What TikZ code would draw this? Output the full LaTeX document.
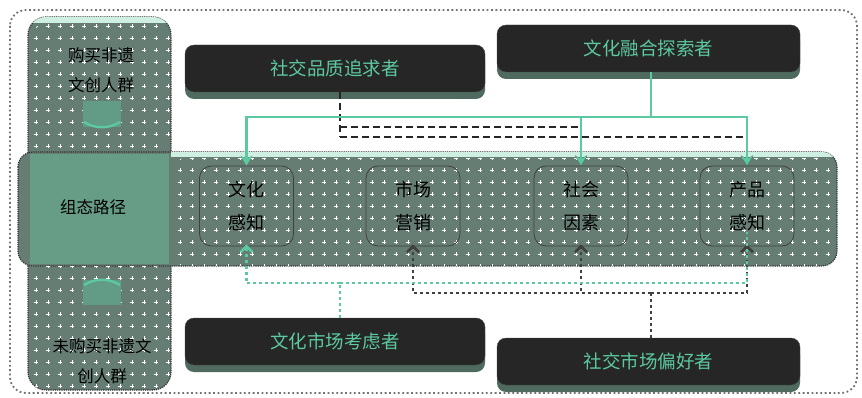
\documentclass[tikz,border=0pt]{standalone}
\usepackage{fontspec}
\setmainfont{Noto Sans CJK SC}
\usetikzlibrary{arrows.meta,patterns.meta,shadows}
\definecolor{mint}{HTML}{5CC9A0}
\definecolor{darkbg}{HTML}{262626}
\definecolor{panel}{HTML}{667D74}
\definecolor{panelmix}{HTML}{679C86}
\definecolor{shade}{HTML}{4F6B60}
\tikzdeclarepattern{name=plusgrid, type=uncolored,
  bounding box={(-6pt,-6pt) and (6pt,6pt)}, tile size={(12pt,12pt)},
  code={\draw[line width=0.9pt] (-1.8pt,0)--(1.8pt,0) (0,-1.8pt)--(0,1.8pt);}}
\tikzset{
  darkbox/.style={draw=black!70, fill=darkbg, rounded corners=9pt, text=mint,
    font=\fontsize{18.5}{22}\selectfont, minimum width=300pt, minimum height=47pt,
    drop shadow={shadow xshift=0pt, shadow yshift=-7pt, fill=shade, opacity=1}},
  factor/.style={draw=black!75, line width=0.8pt, rounded corners=12pt, align=center,
    font=\fontsize{18}{33}\selectfont, minimum width=94pt, minimum height=80pt, inner sep=0pt},
  coltext/.style={font=\fontsize{16.5}{30}\selectfont, align=center, text=black},
  mintline/.style={draw=mint, line width=2.8pt},
  dashline/.style={draw=black!85, line width=2.6pt, dash pattern=on 7pt off 4pt},
  mintdot/.style={draw=mint, line width=2.6pt, dash pattern=on 2.6pt off 3.4pt},
  darkdot/.style={draw=black!75, line width=2.6pt, dash pattern=on 2.6pt off 3.4pt},
  downtip/.style={-{Stealth[length=10pt,width=12pt]}},
  uptip/.style={-{Straight Barb[length=6pt,width=12pt,line width=2.6pt]}, shorten >=2pt}
}
\begin{document}
\begin{tikzpicture}[x=1pt,y=-1pt]
\useasboundingbox (0,0) rectangle (862,398);
% outer frame
\draw[black!55, line width=1.8pt, dash pattern=on 1.8pt off 2.6pt, rounded corners=16pt] (10,10) rectangle (857,393);
% left column and band
\draw[black!80, line width=1.2pt, densely dotted, rounded corners=18pt, fill=panel] (28,17) rectangle (171,390);
\draw[black!80, line width=1.2pt, densely dotted, rounded corners=15pt, fill=panel] (18,152) rectangle (837,266);
\fill[panelmix] (30,154) rectangle (169,264);
\begin{scope}
\clip[rounded corners=18pt] (28,17) rectangle (171,390);
\fill[mint!30] (28,17) rectangle (171,23);
\end{scope}
\begin{scope}
\clip[rounded corners=15pt] (18,152) rectangle (837,266);
\fill[mint!30] (171,152) rectangle (837,157);
\end{scope}
\fill[pattern=plusgrid, pattern color=white!85, rounded corners=18pt] (28,24) rectangle (171,152);
\fill[pattern=plusgrid, pattern color=white!85, rounded corners=18pt] (28,266) rectangle (171,390);
\fill[pattern=plusgrid, pattern color=white!85, rounded corners=15pt] (171,158) rectangle (837,266);
% column texts
\node[coltext] (buy) at (101,70) {购买非遗\\文创人群};
\node[coltext] (path) at (93,207) {组态路径};
\node[coltext] (nobuy) at (102,361) {未购买非遗文\\创人群};
% icons
\fill[mint!40!panel] (83,101) rectangle (121,127);
\draw[mint, line width=2.4pt] (84,122) .. controls (95,129) and (109,129) .. (120,122);
\fill[mint!40!panel] (83,280) rectangle (121,305);
\draw[mint, line width=2.4pt] (84,285) .. controls (95,278) and (109,278) .. (120,285);
% factor nodes
\node[factor] (f1) at (246.5,206) {文化\\感知};
\node[factor] (f2) at (413,206) {市场\\营销};
\node[factor] (f3) at (581,206) {社会\\因素};
\node[factor] (f4) at (747,206) {产品\\感知};
% dark boxes
\node[darkbox] (q) at (335,68.5) {社交品质追求者};
\node[darkbox, minimum width=303pt] (r) at (648.5,48.5) {文化融合探索者};
\node[darkbox] (c) at (335,341.5) {文化市场考虑者};
\node[darkbox, minimum width=303pt] (p) at (648.5,361.5) {社交市场偏好者};
% junction coordinates
\coordinate (dq1) at (340,127);
\coordinate (dq2) at (340,137);
\coordinate (mj) at (651,117);
\coordinate (cm) at (340,283);
\coordinate (pm) at (651,293);
% dashed from q
\draw[dashline] (q.south -| dq2) -- (dq2);
\draw[dashline, downtip] (dq2) -| (f4.north);
\draw[dashline, downtip] (dq1) -| (f3.north);
% mint solid from r
\draw[mintline] (r.south -| mj) -- (mj);
\draw[mintline, downtip] (mj) -| (f1.north);
\draw[mintline, downtip] (mj) -| (f3.north);
\draw[mintline, downtip] (mj) -| (f4.north);
% dotted from p
\draw[darkdot] (p.north -| pm) -- (pm);
\draw[darkdot, uptip] (pm) -| ([yshift=4pt]f2.south);
\draw[darkdot, uptip] (pm) -| ([yshift=4pt]f3.south);
\draw[darkdot, uptip] (pm) -| ([yshift=4pt]f4.south);
% mint dotted from c
\draw[mintdot] (c.north -| cm) -- (cm);
\draw[mintdot, uptip] (cm) -| ([yshift=4pt]f1.south);
\draw[mintdot] (cm) -| ([yshift=14pt]f4.south);
\end{tikzpicture}
\end{document}
